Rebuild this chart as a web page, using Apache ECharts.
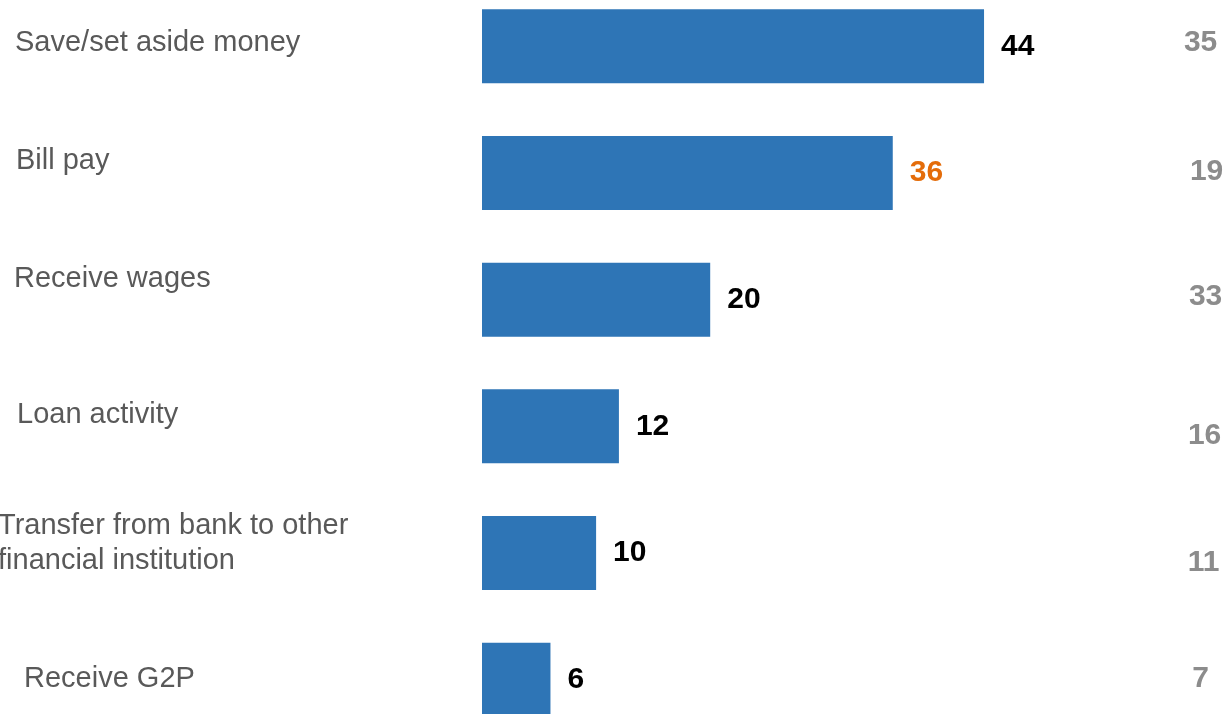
<!DOCTYPE html>
<html>
<head>
<meta charset="utf-8">
<script src="https://cdn.jsdelivr.net/npm/echarts@6/dist/echarts.min.js"></script>
<style>
  html, body { margin: 0; padding: 0; background: #ffffff; }
  #chart { width: 1228px; height: 714px; }
</style>
</head>
<body>
<div id="chart"></div>
<script>
// Share of respondents using the account for each activity
const categories = [
  'Save/set aside money',
  'Bill pay',
  'Receive wages',
  'Loan activity',
  'Transfer from bank to other\nfinancial institution',
  'Receive G2P'
];
const values = [44, 36, 20, 12, 10, 6];
// Comparison figures shown in the right-hand column
const comparison = [35, 19, 33, 16, 11, 7];
// Bar whose value label is highlighted
const highlightIndex = 1;

// Per-row nudges for the text columns, [horizontal, vertical] in px (+ is right / down)
const leftNudge = [[17, -3], [18, -12], [16, -21], [19, -11], [0, -10], [26, -1]];
const rightNudge = [[0, -4], [6, -1], [5, -3], [4, 9], [3, 10], [0, -1]];

const FONT = '"Liberation Sans", Arial, Helvetica, sans-serif';

function shiftPadding(dy, left) {
  // within a fixed line height, padding on one side moves the glyphs by half of it
  return dy >= 0 ? [2 * dy, 0, 0, left || 0] : [0, 0, -2 * dy, left || 0];
}

const leftRich = {};
leftNudge.forEach((n, i) => {
  leftRich['c' + i] = {
    fontFamily: FONT, fontSize: 29, lineHeight: 35, color: '#595959',
    padding: shiftPadding(n[1], n[0])
  };
});
const rightRich = {};
rightNudge.forEach((n, i) => {
  rightRich['v' + i] = {
    fontFamily: FONT, fontSize: 30, lineHeight: 35, fontWeight: 'bold', color: '#8C8C8C',
    // centred text: left padding moves it right by half of the padding
    padding: shiftPadding(n[1], 2 * n[0])
  };
});

const leftItems = categories.map(c => ({ value: c, textStyle: { align: 'left' } }));
const rightItems = comparison.map(v => ({ value: String(v), textStyle: { align: 'center' } }));
const barData = values.map((v, i) => i === highlightIndex
  ? { value: v, label: { color: '#E46C0A' } }
  : v);

const chart = echarts.init(document.getElementById('chart'), null, { renderer: 'canvas' });
chart.setOption({
  backgroundColor: '#ffffff',
  animation: false,
  grid: {
    left: 482, right: 61.4, top: -17, bottom: -29,
    containLabel: false,
    outerBoundsMode: 'none'
  },
  xAxis: {
    type: 'value', min: 0, max: 60,
    show: false
  },
  yAxis: [
    {
      type: 'category',
      data: leftItems,
      inverse: true,
      axisLine: { show: false },
      axisTick: { show: false },
      splitLine: { show: false },
      axisLabel: {
        align: 'left',
        margin: 484,
        color: '#595959',
        fontFamily: FONT,
        fontSize: 29,
        lineHeight: 35,
        formatter: (value, index) => '{c' + index + '|' + value + '}',
        rich: leftRich
      }
    },
    {
      type: 'category',
      data: rightItems,
      inverse: true,
      position: 'right',
      axisLine: { show: false },
      axisTick: { show: false },
      splitLine: { show: false },
      axisLabel: {
        align: 'center',
        margin: 34,
        color: '#8C8C8C',
        fontFamily: FONT,
        fontWeight: 'bold',
        fontSize: 30,
        lineHeight: 35,
        formatter: (value, index) => '{v' + index + '|' + value + '}',
        rich: rightRich
      }
    }
  ],
  series: [{
    type: 'bar',
    yAxisIndex: 0,
    data: barData,
    barWidth: 74,
    itemStyle: { color: '#2E75B6' },
    label: {
      show: true,
      position: 'right',
      distance: 17,
      color: '#000000',
      fontFamily: FONT,
      fontWeight: 'bold',
      fontSize: 30
    }
  }]
});
</script>
</body>
</html>
